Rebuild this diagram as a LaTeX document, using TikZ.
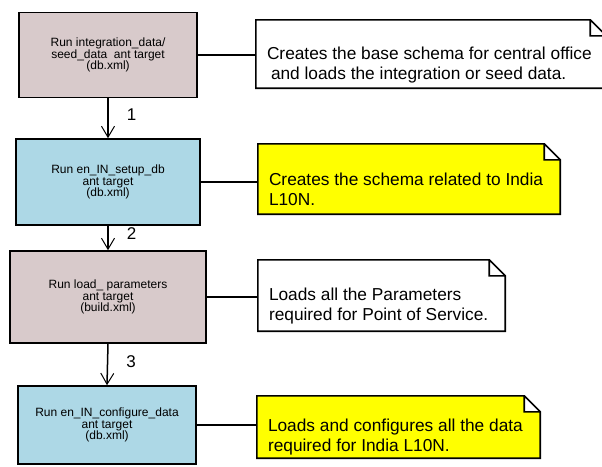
\documentclass[tikz,border=0pt]{standalone}
\usepackage{fontspec}
\setmainfont{Liberation Sans}
\usetikzlibrary{arrows.meta}
\definecolor{taskpink}{RGB}{216,202,203}
\definecolor{taskblue}{RGB}{173,216,230}
\definecolor{memoyellow}{RGB}{255,255,0}
\tikzset{
  task/.style={draw, line width=1.6pt, align=center, inner sep=0pt, font=\fontsize{12}{11.5}\selectfont},
  memo/.style={inner sep=0pt},
  memotext/.style={anchor=south west, align=left, inner sep=0pt, font=\fontsize{17.3}{20}\selectfont},
  link/.style={line width=1.6pt},
  flow/.style={line width=1.5pt, -{Straight Barb[length=11pt,width=13pt,line width=1pt]}},
  num/.style={anchor=west, inner sep=0pt, font=\fontsize{17}{20}\selectfont},
}
\begin{document}
\begin{tikzpicture}[x=1pt,y=-1pt]
\useasboundingbox (0,0) rectangle (602,466);
% ant targets
\node[task, fill=taskpink, minimum width=178pt, minimum height=85pt] (load1) at (108,55) {Run integration\_data/\\seed\_data\ \ ant target\\(db.xml)};
\node[task, fill=taskblue, minimum width=184pt, minimum height=86pt] (load2) at (108,182) {Run en\_IN\_setup\_db\\ant target\\(db.xml)};
\node[task, fill=taskpink, minimum width=196pt, minimum height=92pt] (load3) at (108,297) {Run load\_ parameters\\ant target\\(build.xml)};
\node[task, fill=taskblue, minimum width=178pt, minimum height=78pt] (load4) at (107,425) {Run en\_IN\_configure\_data\\ant target\\(db.xml)};
% notes
\node[memo, minimum width=350pt, minimum height=68pt] (note1) at (431,54) {};
\node[memo, minimum width=302pt, minimum height=70pt] (note2) at (409,179) {};
\node[memo, minimum width=247pt, minimum height=71pt] (note3) at (381.5,295.5) {};
\node[memo, minimum width=283pt, minimum height=62pt] (note4) at (398.5,427) {};
\foreach \memo/\tint in {note1/white,note2/memoyellow,note3/white,note4/memoyellow}
  \filldraw[link, fill=\tint] (\memo.north west) -- ([xshift=-16pt]\memo.north east)
    -- ([yshift=-16pt]\memo.north east) -- (\memo.south east) -- (\memo.south west) -- cycle
    ([xshift=-16pt]\memo.north east) |- ([yshift=-16pt]\memo.north east);
\node[memotext] (memo1) at ([shift={(11pt,5pt)}]note1.south west) {Creates the base schema for central office\\\hspace*{4pt}and loads the integration or seed data.};
\node[memotext] (memo2) at ([shift={(11pt,8pt)}]note2.south west) {Creates the schema related to India\\L10N.};
\node[memotext] (memo3) at ([shift={(11pt,7pt)}]note3.south west) {Loads all the Parameters\\required for Point of Service.};
\node[memotext] (memo4) at ([shift={(11pt,3pt)}]note4.south west) {Loads and configures all the data\\required for India L10N.};
% links
\foreach \i in {1,...,4}
  \draw[link] (load\i.east) -- (load\i.east -| note\i.west);
\draw[flow] (load1.south) -- node[num, pos=0.4, xshift=18pt] (lbl1) {1} (load2.north);
\draw[flow] (load2.south) -- node[num, pos=0.3, xshift=18pt] (lbl2) {2} (load3.north);
\draw[flow] (load3.south) -- node[num, pos=0.42, xshift=18pt] (lbl3) {3} (load4.north);
\end{tikzpicture}
\end{document}
